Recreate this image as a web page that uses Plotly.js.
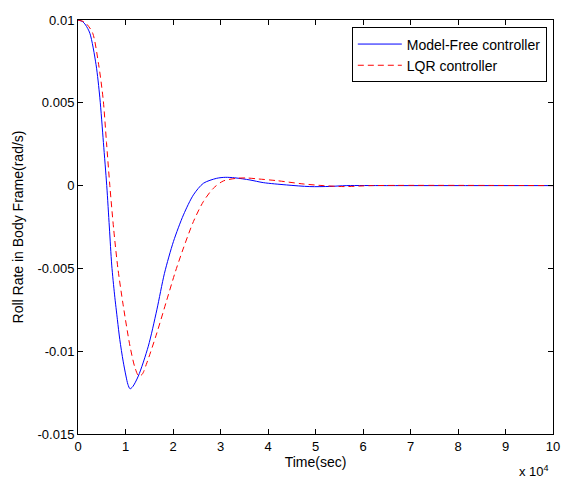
<!DOCTYPE html>
<html>
<head>
<meta charset="utf-8">
<script src="https://cdn.plot.ly/plotly-3.0.1.min.js"></script>
<style>html,body{margin:0;padding:0;background:#fff;}#chart{width:562px;height:481px;}</style>
</head>
<body>
<div id="chart"></div>
<script>
// Time in units of 10^4 sec
const tModelFree = [0, 0.1, 0.16, 0.25, 0.38, 0.46, 0.535, 0.605, 0.66, 0.71, 0.77, 0.83, 0.88, 0.95, 1.01, 1.05, 1.095, 1.15, 1.27, 1.48, 1.66, 1.82, 2.01, 2.22, 2.43, 2.64, 2.92, 3.1, 3.3, 3.62, 3.9, 4.39, 4.88, 5.3, 5.66, 6.5, 10];
const yModelFree = [0.01, 0.0099, 0.0097, 0.0092, 0.0073, 0.0053, 0.0026, 0, -0.0025, -0.0048, -0.0066, -0.0081, -0.0093, -0.0106, -0.0115, -0.0120, -0.01227, -0.01215, -0.0115, -0.0097, -0.0075, -0.0053, -0.00337, -0.00177, -0.00056, 0.00014, 0.00044, 0.0005, 0.00047, 0.00034, 0.00018, 0.00004, -0.00006, -0.00005, 0, 0, 0];

const tLQR = [0, 0.12, 0.2, 0.31, 0.435, 0.53, 0.6, 0.67, 0.75, 0.84, 0.95, 1.095, 1.2, 1.28, 1.35, 1.45, 1.66, 1.87, 2.05, 2.22, 2.43, 2.64, 2.85, 3.06, 3.34, 3.55, 3.8, 4.18, 4.74, 5.16, 5.6, 6.2, 10];
const yLQR = [0.01, 0.0099, 0.0097, 0.0092, 0.0073, 0.0052, 0.0026, 0, -0.0026, -0.005, -0.0072, -0.0097, -0.0110, -0.0115, -0.0114, -0.0107, -0.0089, -0.0069, -0.0052, -0.00377, -0.00217, -0.00096, -0.00016, 0.00028, 0.00044, 0.00046, 0.0004, 0.0003, 0.0001, 0, -0.00006, 0, 0];

const seriesNames = ['Model-Free controller', 'LQR controller'];
const xTickVals = [0, 1, 2, 3, 4, 5, 6, 7, 8, 9, 10];
const yTickVals = [0.01, 0.005, 0, -0.005, -0.01, -0.015];
const yTickText = ['0.01', '0.005', '0', '-0.005', '-0.01', '-0.015'];

const font = {family: '"Liberation Sans", Arial, sans-serif', color: '#000'};

const traces = [
  {x: tModelFree, y: yModelFree, name: seriesNames[0], mode: 'lines',
   line: {color: '#0000ff', width: 1, shape: 'spline', smoothing: 0.8}},
  {x: tLQR, y: yLQR, name: seriesNames[1], mode: 'lines',
   line: {color: '#ff0000', width: 1, dash: '6px,4px', shape: 'spline', smoothing: 0.8}}
];

const axisCommon = {
  showgrid: false, zeroline: false, showline: true, linecolor: '#000', linewidth: 1,
  mirror: 'ticks', ticks: 'inside', ticklen: 5, tickcolor: '#000', tickwidth: 1,
  tickfont: Object.assign({size: 13}, font)
};

const layout = {
  width: 562, height: 481,
  margin: {l: 78, r: 9, t: 20, b: 47},
  paper_bgcolor: '#fff', plot_bgcolor: '#fff',
  font: font,
  showlegend: true,
  legend: {x: 0.987, xanchor: 'right', y: 0.982, yanchor: 'top',
           bgcolor: '#fff', bordercolor: '#000', borderwidth: 1,
           font: Object.assign({size: 14}, font), tracegroupgap: 0, itemwidth: 44},
  xaxis: Object.assign({}, axisCommon, {
    range: [0, 10], tickvals: xTickVals, ticktext: xTickVals.map(String),
    title: {text: 'Time(sec)', font: Object.assign({size: 14}, font), standoff: 4}
  }),
  yaxis: Object.assign({}, axisCommon, {
    range: [-0.015, 0.01], tickvals: yTickVals, ticktext: yTickText,
    title: {text: 'Roll Rate in Body Frame(rad/s)', font: Object.assign({size: 14}, font), standoff: 10}
  }),
  annotations: [{
    text: 'x 10<sup>4</sup>', xref: 'paper', yref: 'paper', x: 0.995, y: 0, yshift: -27,
    xanchor: 'right', yanchor: 'top', showarrow: false, font: Object.assign({size: 13}, font)
  }]
};

Plotly.newPlot('chart', traces, layout, {displayModeBar: false, staticPlot: true});
</script>
</body>
</html>
